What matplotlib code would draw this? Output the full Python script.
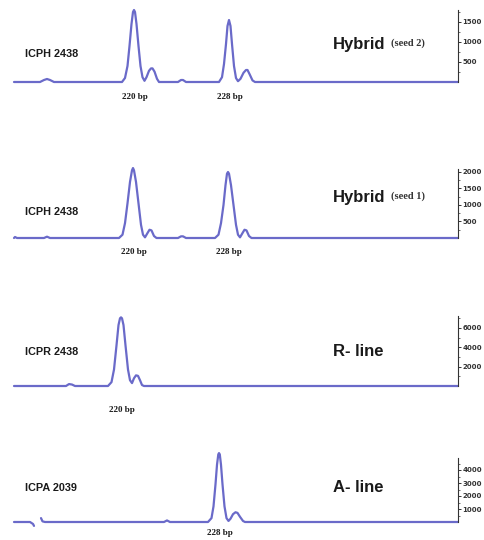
import matplotlib
matplotlib.use("Agg")
import matplotlib.pyplot as plt
import numpy as np
from matplotlib.ticker import FixedLocator

## electropherogram traces (x = scan position, y = RFU)
p1_x = [14, 40, 44, 47, 50, 54, 122, 125, 127.5, 129.5, 131.5, 133, 134, 135, 136.5, 138.5, 140.5, 142.5, 144.5, 146.5, 149, 151, 152.5, 154.5, 157, 159,
        178, 181, 183, 186, 219, 222, 224, 226, 227.5, 229, 230.5, 232, 234, 236, 238, 240.5, 243.5, 246, 247.5, 249.5, 252.5, 255, 458]
p1_y = [0, 0, 50, 75, 50, 0, 0, 100, 400, 900, 1450, 1750, 1800, 1750, 1450, 900, 400, 120, 30, 120, 280, 340, 340, 260, 80, 0,
        0, 50, 50, 0, 0, 120, 450, 950, 1400, 1550, 1400, 950, 400, 100, 20, 80, 230, 300, 300, 200, 40, 0, 0]

p2_x = [14, 15, 17, 44, 47, 50, 119, 122.5, 125, 127.5, 130, 132, 133, 134, 136, 138.5, 141, 143, 145, 147.5, 149.5, 151.5, 154, 156.5,
        178, 181, 183, 186, 215, 218.5, 221, 223.5, 225.5, 227, 228, 229, 231, 233.5, 236, 238, 240, 242.5, 244.5, 246.5, 249, 251.5, 458]
p2_y = [0, 30, 0, 0, 40, 0, 0, 100, 450, 1050, 1700, 2050, 2120, 2050, 1700, 1050, 400, 100, 20, 150, 250, 230, 60, 0,
        0, 50, 50, 0, 0, 100, 450, 1000, 1600, 1950, 2000, 1950, 1600, 1000, 400, 100, 20, 150, 250, 230, 60, 0, 0]

p3_x = [14, 66, 69, 72, 75, 108, 111.5, 114, 116.5, 118.5, 120, 121, 122, 123.5, 125.5, 128, 130, 132, 134, 136, 138, 140, 142, 144, 458]
p3_y = [0, 0, 200, 150, 0, 0, 400, 1700, 4200, 6300, 7000, 7100, 7000, 6300, 4200, 1700, 600, 300, 800, 1100, 1050, 600, 100, 0, 0]

p4_x = [14, 30, 33, 34, np.nan, 41, 42.5, 45, 164, 167, 170, 208, 211.5, 213.5, 215.5, 217, 218.3, 219, 219.8, 221, 222.5, 224.5, 226.5, 228.5,
        230.5, 233, 235.5, 237.5, 240, 243, 245, 458]
p4_y = [0, 0, -150, -300, np.nan, 300, 50, 0, 0, 120, 0, 0, 300, 1200, 2900, 4400, 5200, 5300, 5200, 4400, 2900, 1200, 300, 80,
        250, 600, 750, 700, 400, 80, 0, 0]

sample_names = ["ICPH 2438", "ICPH 2438", "ICPR 2438", "ICPA 2039"]
line_names = ["Hybrid", "Hybrid", "R- line", "A- line"]
line_notes = ["(seed 2)", "(seed 1)", "", ""]
peak_labels = [[(134, "220 bp"), (229, "228 bp")],
               [(133, "220 bp"), (228, "228 bp")],
               [(121, "220 bp")],
               [(219, "228 bp")]]
axis_tops = [1800, 2100, 7200, 4900]
major_steps = [500, 500, 2000, 1000]
minor_steps = [250, 250, 1000, 500]

traces = [(p1_x, p1_y), (p2_x, p2_y), (p3_x, p3_y), (p4_x, p4_y)]

# pixel layout of each panel: zero line, px per RFU, band top, band bottom
W, H = 485, 540
layout = [(82, 0.040, 0, 110),
          (238, 0.033, 140, 268),
          (386, 0.00967, 300, 420),
          (522, 0.013, 440, 540)]
label_y = [54, 212, 352, 488]
name_y = [45, 198, 352, 487]
bp_y = [97, 252, 410, 533]

line_col = "#6a6ac9"
txt_col = "#1a1a1a"

fig = plt.figure(figsize=(W / 100, H / 100), dpi=100)
fig.patch.set_facecolor("white")

for i in range(4):
    zero, ppu, top, bot = layout[i]
    ax = fig.add_axes([0, 1 - bot / H, 1, (bot - top) / H])
    ax.set_xlim(0, W)
    ax.set_ylim((zero - bot) / ppu, (zero - top) / ppu)
    ax.plot(traces[i][0], traces[i][1], color=line_col, lw=1.6,
            solid_joinstyle="round", solid_capstyle="round")

    for s in ["top", "left", "bottom"]:
        ax.spines[s].set_visible(False)
    ax.spines["right"].set_position(("data", 458))
    ax.spines["right"].set_bounds(0, axis_tops[i])
    ax.spines["right"].set_color("#333333")
    ax.spines["right"].set_linewidth(0.8)
    ax.set_xticks([])
    ax.yaxis.tick_right()
    ticks = list(np.arange(major_steps[i], axis_tops[i] + 1, major_steps[i]))
    minors = [m for m in np.arange(minor_steps[i], axis_tops[i] + 1, minor_steps[i])
              if m % major_steps[i] != 0]
    ax.yaxis.set_major_locator(FixedLocator(ticks))
    ax.yaxis.set_minor_locator(FixedLocator(minors))
    ax.set_yticklabels([str(int(t)) for t in ticks], fontsize=5, fontweight="bold", color="#333333")
    ax.tick_params(axis="y", which="major", length=2.5, width=0.7, pad=0.5, colors="#333333")
    ax.tick_params(axis="y", which="minor", length=1.5, width=0.5, colors="#333333")
    ax.set_facecolor("none")

    yd = lambda px: (zero - px) / ppu
    ax.text(25, yd(label_y[i]), sample_names[i], fontsize=7.8, fontweight="bold",
            family="Liberation Sans", color=txt_col, va="center", ha="left")
    ax.text(333, yd(name_y[i]), line_names[i], fontsize=12, fontweight="bold",
            family="Liberation Sans", color=txt_col, va="center", ha="left")
    if line_notes[i]:
        ax.text(391, yd(name_y[i]) + 1.5 / ppu, line_notes[i], fontsize=7.5, fontweight="bold",
                family="Liberation Serif", color="#333333", va="center", ha="left")
    for px, lab in peak_labels[i]:
        ax.text(px + 1, yd(bp_y[i]), lab, fontsize=6.5, fontweight="bold",
                family="Liberation Serif", color=txt_col, va="center", ha="center")

fig.savefig("out.png", dpi=100)
